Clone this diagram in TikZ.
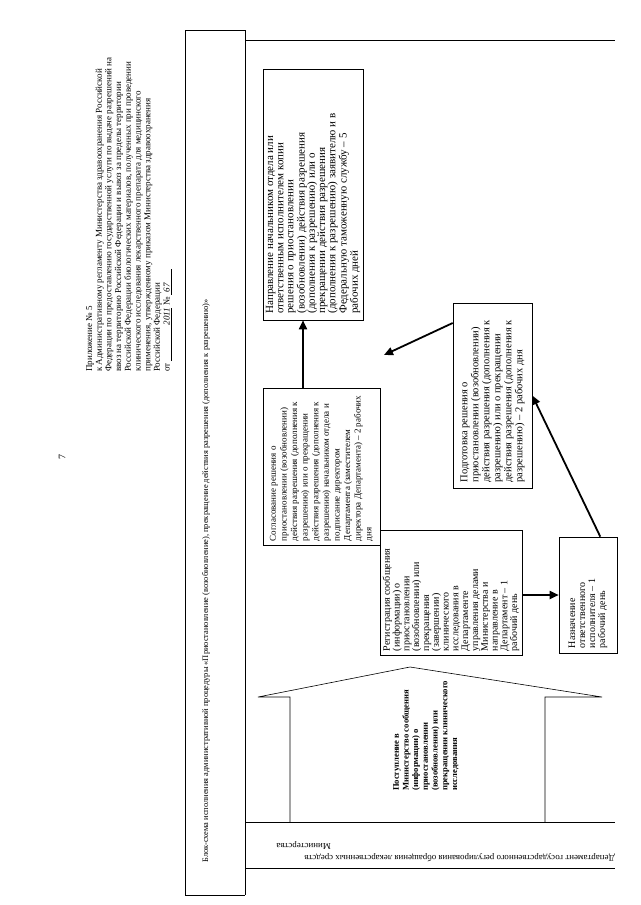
\documentclass[tikz,border=0pt]{standalone}
\usepackage{fontspec}
\setmainfont{Liberation Serif}
\usetikzlibrary{arrows.meta}
\tikzset{
  frameline/.style={line width=0.6pt},
  boxnode/.style={draw, line width=0.6pt, inner sep=0pt},
  flowarrow/.style={line width=1.8pt, -{Triangle[length=9pt,width=8pt]}},
}
\newcommand{\vtext}[2]{\rotatebox{90}{\parbox{#1}{\raggedright #2}}}
\begin{document}
\begin{tikzpicture}[x=1pt,y=-1pt]
\fill[white] (0,0) rectangle (640,905);
\useasboundingbox (0,0) rectangle (640,905);
% page number
\node[rotate=90, font=\fontsize{10}{12}\selectfont] (pnum) at (62,457) {7};
% header
\node[anchor=south west, inner sep=0pt, font=\fontsize{9}{9.7}\selectfont] (head) at (86,372)
{\rotatebox{90}{\parbox{340pt}{\raggedright
Приложение № 5\\
к Административному регламенту Министерства здравоохранения Российской\\
Федерации по предоставлению государственной услуги по выдаче разрешений на\\
ввоз на территорию Российской Федерации и вывоз за пределы территории\\
Российской Федерации биологических материалов, полученных при проведении\\
клинического исследования лекарственного препарата для медицинского\\
применения, утвержденному приказом Министерства здравоохранения\\
Российской Федерации\\
от \underline{\hspace{4em}\textit{2011}}~№ \underline{\textit{\hspace{0.3em}67}\hspace{1.5em}}}}};
% frame
\draw[frameline] (185,30) -- (245,30);
\draw[frameline] (185,30) -- (185,895) -- (245,895);
\draw[frameline] (245,30) -- (245,895);
\draw[frameline] (245,40) -- (615,40);
\draw[frameline] (245,822) -- (615,822);
\draw[frameline] (245,868) -- (615,868);
% title
\node[inner sep=0pt, font=\fontsize{8.4}{10}\selectfont] (title) at (206,581)
{\rotatebox{90}{Блок-схема исполнения административной процедуры «Приостановление (возобновление), прекращение действия разрешения (дополнения к разрешению)»}};
% department
\node[anchor=south east, inner sep=0pt, font=\fontsize{8.9}{12}\selectfont] (dept) at (615,862)
{\rotatebox{180}{\parbox{372pt}{\raggedright Департамент государственного регулирования обращения лекарственных средств\\ \hspace*{284pt}Министерства}}};
% boxes
\node[boxnode, minimum width=100pt, minimum height=251pt, font=\fontsize{11}{10.2}\selectfont] (napr) at (313,194.5)
{\vtext{238pt}{Направление начальником отдела или\\ ответственным исполнителем копии\\ решения о приостановлении\\ (возобновлении) действия разрешения\\ (дополнения к разрешению) или о\\ прекращении действия разрешения\\ (дополнения к разрешению) заявителю и в\\ Федеральную таможенную службу – 5\\ рабочих дней}};
\node[boxnode, minimum width=117pt, minimum height=157pt, font=\fontsize{9}{10.6}\selectfont] (sogl) at (321.5,466.5)
{\vtext{149pt}{Согласование решения о\\ приостановлении (возобновлении)\\ действия разрешения (дополнения к\\ разрешению) или о прекращении\\ действия разрешения (дополнения к\\ разрешению) начальником отдела и\\ подписание директором\\ Департамента (заместителем\\ директора Департамента) – 2 рабочих\\ дня}};
\node[boxnode, minimum width=79pt, minimum height=185pt, font=\fontsize{10.5}{11}\selectfont] (podg) at (492.5,395.5)
{\vtext{174pt}{Подготовка решения о\\ приостановлении (возобновлении)\\ действия разрешения (дополнения к\\ разрешению) или о прекращении\\ действия разрешения (дополнения к\\ разрешению) – 2 рабочих дня}};
\node[boxnode, minimum width=142pt, minimum height=125pt, font=\fontsize{10}{9.8}\selectfont] (reg) at (451,592.5)
{\vtext{117pt}{Регистрация сообщения\\ (информации) о\\ приостановлении\\ (возобновлении) или\\ прекращения\\ (завершении)\\ клинического\\ исследования в\\ Департаменте\\ управления делами\\ Министерства и\\ направление в\\ Департамент – 1\\ рабочий день}};
\node[boxnode, minimum width=58pt, minimum height=116pt, font=\fontsize{10}{10}\selectfont] (nazn) at (588,595)
{\vtext{106pt}{Назначение\\ ответственного\\ исполнителя – 1\\ рабочий день}};
% big arrow
\draw[line width=0.6pt] (290,822) -- (290,697) -- (258,697) -- (410,667) -- (602,697) -- (545,697) -- (545,822);
\node[anchor=south west, inner sep=0pt, font=\bfseries\fontsize{8.6}{9.7}\selectfont] (post) at (393,791)
{\vtext{130pt}{Поступление в\\ Министерство сообщения\\ (информации) о\\ приостановлении\\ (возобновлении) или\\ прекращении клинического\\ исследования}};
% connectors
\coordinate (c3) at (384,355);
\draw[flowarrow] (reg.east |- nazn.west) -- (nazn.west);
\draw[flowarrow] (nazn.north east) ++(-17,0) coordinate (c1) (c1) -- (podg.east);
\draw[flowarrow] (podg.west |- 0,323) coordinate (c2) (c2) -- (c3);
\draw[flowarrow] (sogl.north -| 303,0) -- (napr.south -| 303,0);
\end{tikzpicture}
\end{document}
